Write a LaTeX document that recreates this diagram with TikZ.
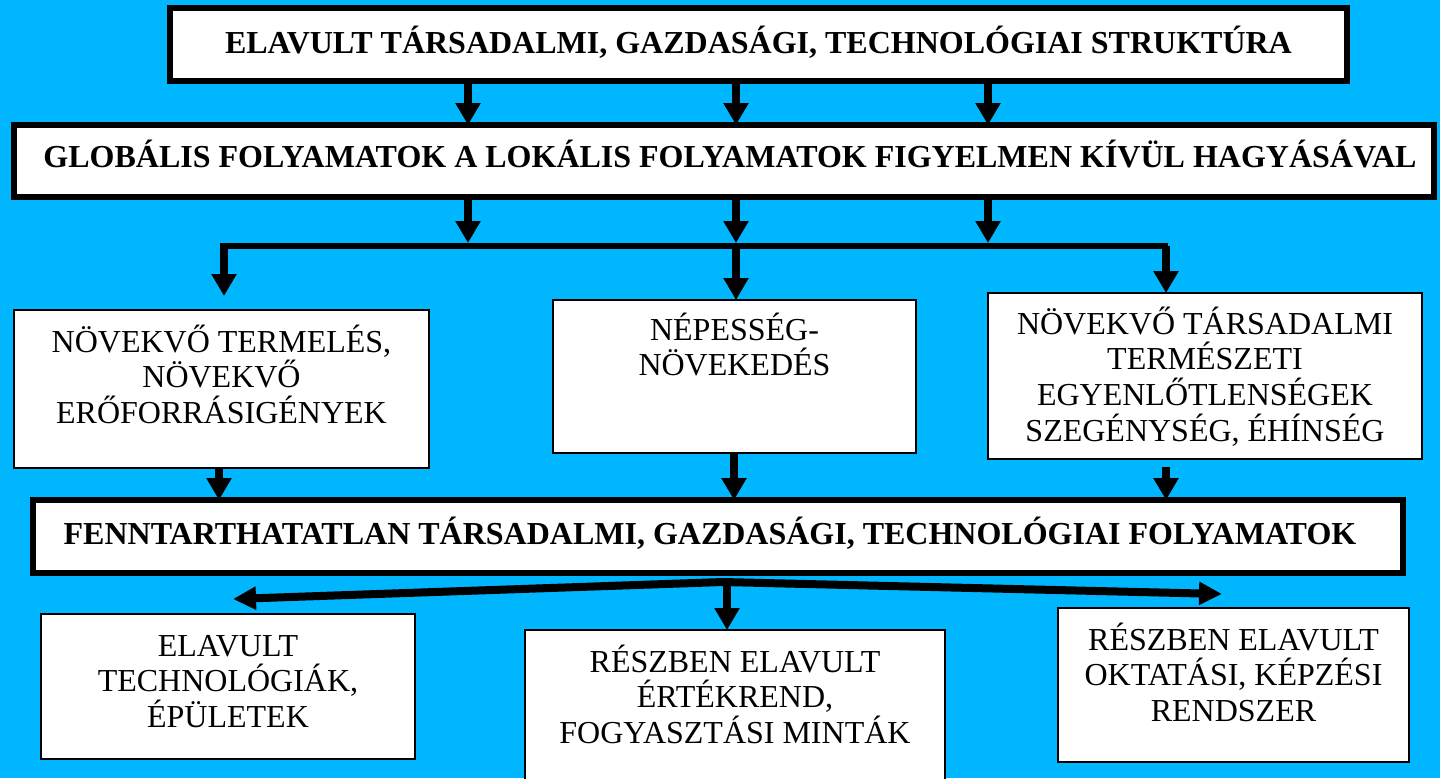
\documentclass[tikz,border=0pt]{standalone}
\usepackage{fontspec}
\setmainfont{Liberation Serif}
\usetikzlibrary{arrows.meta,calc}
\definecolor{bgblue}{RGB}{0,182,255}
% width, height, first-baseline depth, content
\newcommand{\boxcontent}[4]{%
  \parbox[c][#2][t]{#1}{\fontsize{16}{17.85}\selectfont\centering\lineskiplimit=-30pt\relax
  \rule{0pt}{#3}#4\par}}
\tikzset{
  thickbox/.style={draw=black, fill=white, line width=3.25pt, inner sep=0pt, outer sep=0pt},
  thinbox/.style={draw=black, fill=white, line width=1pt, inner sep=0pt, outer sep=0pt},
  arr/.style={draw=black, line width=4pt, -{Triangle[width=12pt,length=11pt]}},
  arrtilt/.style={draw=black, line width=4pt, -{Triangle[width=11pt,length=11.5pt]}},
  barline/.style={draw=black, line width=3pt}
}
\begin{document}
\begin{tikzpicture}[x=0.5pt,y=-0.5pt]
\useasboundingbox (0,0) rectangle (1440,778);
\clip (0,0) rectangle (1440,778);
\fill[bgblue] (0,0) rectangle (1440,778);

% top boxes
\node[thickbox] (t1) at (758.5,44.5)
  {\boxcontent{588.5pt}{36.5pt}{22.5pt}{\bfseries ELAVULT TÁRSADALMI, GAZDASÁGI, TECHNOLÓGIAI STRUKTÚRA}};
\node[thickbox] (t2) at (724,161)
  {\boxcontent{710pt}{36pt}{21pt}{\hspace*{6pt}\bfseries GLOBÁLIS FOLYAMATOK A LOKÁLIS FOLYAMATOK FIGYELMEN KÍVÜL HAGYÁSÁVAL}};

% middle row
\node[thinbox] (m1) at (221.5,389)
  {\boxcontent{207.5pt}{79pt}{21pt}{NÖVEKVŐ TERMELÉS,\\ NÖVEKVŐ\\ ERŐFORRÁSIGÉNYEK}};
\node[thinbox] (m2) at (734.5,376.5)
  {\boxcontent{181.5pt}{76.5pt}{20pt}{NÉPESSÉG-\\ NÖVEKEDÉS}};
\node[thinbox] (m3) at (1205,376)
  {\boxcontent{217pt}{83pt}{20.5pt}{NÖVEKVŐ TÁRSADALMI\\ TERMÉSZETI\\ EGYENLŐTLENSÉGEK\\ SZEGÉNYSÉG, ÉHÍNSÉG}};

% process box
\node[thickbox] (b4) at (718,536.5)
  {\boxcontent{685pt}{36.5pt}{22pt}{\bfseries FENNTARTHATATLAN TÁRSADALMI, GAZDASÁGI, TECHNOLÓGIAI FOLYAMATOK\hspace*{8pt}}};

% bottom row
\node[thinbox] (bl) at (228,686.5)
  {\boxcontent{187pt}{72.5pt}{21pt}{ELAVULT\\ TECHNOLÓGIÁK,\\ ÉPÜLETEK}};
\node[thinbox] (bm) at (735,715)
  {\boxcontent{210pt}{85pt}{21pt}{RÉSZBEN ELAVULT\\ ÉRTÉKREND,\\ FOGYASZTÁSI MINTÁK}};
\node[thinbox] (br) at (1233.5,685)
  {\boxcontent{175.5pt}{77pt}{21pt}{RÉSZBEN ELAVULT\\ OKTATÁSI, KÉPZÉSI\\ RENDSZER}};

% helper coordinates
\coordinate (x1) at (468,0);
\coordinate (x2) at (736,0);
\coordinate (x3) at (988,0);
\coordinate (barL) at (220,246);
\coordinate (barR) at (1168,246);
\coordinate (d1) at (224,246);
\coordinate (d2) at (736,246);
\coordinate (d3) at (1166,246);
\coordinate (e1) at (219,0);
\coordinate (e2) at (734,0);
\coordinate (e3) at (1166,0);
\coordinate (j) at (723,582);
\coordinate (jm) at (727,582);

% t1 -> t2
\draw[arr] (t1.south -| x1) -- (t2.north -| x1);
\draw[arr] (t1.south -| x2) -- (t2.north -| x2);
\draw[arr] (t1.south -| x3) -- (t2.north -| x3);

% t2 -> distribution bar
\draw[barline] (barL) -- (barR);
\draw[arr, shorten >=1.5pt] (t2.south -| x1) -- (x1 |- barL);
\draw[arr, shorten >=1.5pt] (t2.south -| x2) -- (x2 |- barL);
\draw[arr, shorten >=1.5pt] (t2.south -| x3) -- (x3 |- barL);

% bar -> middle row
\draw[arr, shorten >=7pt] (d1) -- (d1 |- m1.north);
\draw[arr] (d2) -- (d2 |- m2.north);
\draw[arr] (d3) -- (d3 |- m3.north);

% middle row -> b4
\draw[arr] (m1.south -| e1) -- (b4.north -| e1);
\draw[arr] (m2.south -| e2) -- (b4.north -| e2);
\draw[arr, shorten <=4pt] (m3.south -| e3) -- (b4.north -| e3);

% b4 -> bottom row
\draw[arrtilt] (j) -- ($(bl.north)+(5,-15)$);
\draw[arrtilt] (j) -- ($(br.north)+(-11.5,-14)$);
\draw[arr] (jm) -- (bm.north -| jm);
\end{tikzpicture}
\end{document}
